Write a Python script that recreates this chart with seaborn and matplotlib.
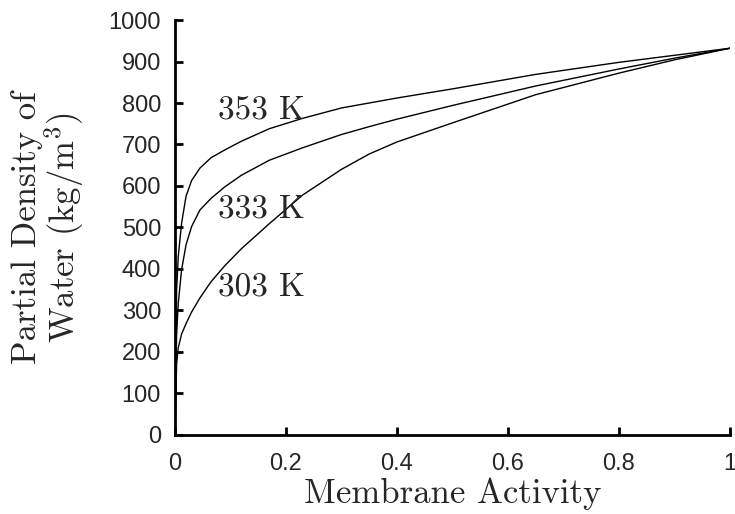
import numpy as np
import pandas as pd
import matplotlib
matplotlib.use('Agg')
import matplotlib.pyplot as plt
import seaborn as sns
from matplotlib.ticker import FormatStrFormatter

# membrane activity grid and partial density of water (kg/m3) per temperature
activity = [0, 0.003, 0.006, 0.012, 0.02, 0.03, 0.045, 0.065, 0.09, 0.12,
            0.17, 0.23, 0.3, 0.35, 0.4, 0.5, 0.65, 0.8, 0.9, 1.0]
rho_353 = [0, 349, 430, 510, 575, 613, 643, 668, 687, 708,
           738, 763, 788, 800, 812, 834, 869, 898, 915, 932]
rho_333 = [0, 240, 317, 398, 458, 502, 542, 570, 598, 626,
           662, 692, 724, 743, 761, 794, 841, 882, 908, 932]
rho_303 = [0, 170, 210, 243, 268, 296, 330, 369, 408, 449,
           509, 578, 640, 677, 706, 752, 820, 872, 904, 932]
temps = ['353 K', '333 K', '303 K']
label_y = [783, 545, 357]

df = pd.concat([
    pd.DataFrame({'a': activity, 'rho': r, 'T': t})
    for r, t in zip([rho_353, rho_333, rho_303], temps)
])

sns.set_style('ticks')
plt.rcParams['mathtext.fontset'] = 'cm'
plt.rcParams['axes.unicode_minus'] = False

fig = plt.figure(figsize=(7.35, 5.14), dpi=100)
ax = fig.add_axes([0.238, 0.154, 0.755, 0.807])

sns.lineplot(data=df, x='a', y='rho', hue='T', palette=['black'] * 3,
             linewidth=1.0, legend=False, ax=ax, sort=False)

for t, ly in zip(temps, label_y):
    ax.text(0.077, ly, t, fontname='cmr10', fontsize=24, va='center', ha='left')

ax.set_xlim(0, 1)
ax.set_ylim(0, 1000)
ax.set_xticks(np.arange(0, 1.01, 0.2))
ax.set_yticks(np.arange(0, 1001, 100))
ax.xaxis.set_major_formatter(FormatStrFormatter('%g'))
for lab in ax.get_xticklabels() + ax.get_yticklabels():
    lab.set_fontfamily('Liberation Sans')
    lab.set_fontsize(17)
ax.tick_params(direction='in', length=6, width=2, color='black')
ax.tick_params(axis='x', pad=13)
ax.tick_params(axis='y', pad=10)

for s in ['top', 'right']:
    ax.spines[s].set_visible(False)
for s in ['left', 'bottom']:
    ax.spines[s].set_linewidth(2)
    ax.spines[s].set_color('black')

ax.set_xlabel('Membrane Activity', fontname='cmr10', fontsize=25, labelpad=2)
ax.set_ylabel('Partial Density of\nWater (kg/m$^3$)', fontname='cmr10',
              fontsize=25, labelpad=16, linespacing=1.0)

plt.savefig('out.png', dpi=100)
